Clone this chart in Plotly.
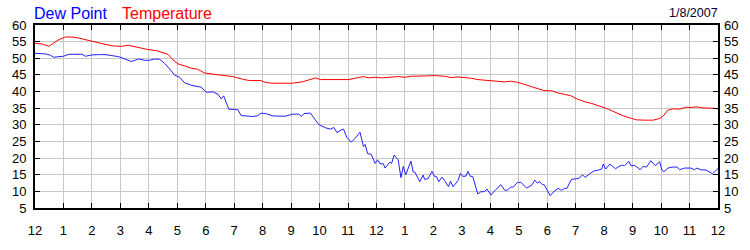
import plotly.graph_objects as go

# ---- data (hours after midnight, values in °F) ----
temp_hours = [0, 0.25, 0.49, 0.66, 0.84, 1.07, 1.3, 1.53, 1.77, 2.0, 2.23, 2.46, 2.75, 3.04, 3.28, 3.51,
              3.74, 3.98, 4.27, 4.5, 4.67, 4.85, 5.03, 5.26, 5.49, 5.72, 5.95, 6.19, 6.49, 6.95, 7.3,
              7.53, 7.94, 8.11, 8.34, 8.69, 9.04, 9.39, 9.68, 9.86, 10.03, 10.56, 10.79, 11.02, 11.25,
              11.54, 11.72, 11.95, 12.18, 12.42, 12.76, 13.0, 13.23, 13.7, 14.04, 14.39, 14.63, 14.86,
              15.1, 15.33, 15.56, 15.9, 16.26, 16.49, 16.72, 16.95, 17.18, 17.42, 17.65, 17.88, 18.17,
              18.4, 18.64, 18.81, 19.04, 19.33, 19.57, 19.8, 19.97, 20.15, 20.38, 20.67, 20.9, 21.13,
              21.43, 21.72, 21.95, 22.07, 22.24, 22.41, 22.65, 22.88, 23.05, 23.23, 23.46, 23.75,
              23.98, 24.0]
temperature = [54.5, 54.3, 53.6, 54.5, 55.6, 56.4, 56.4, 56.1, 55.6, 55.2, 54.5, 54.2, 53.7, 53.6, 53.9,
               53.4, 53.0, 52.6, 52.3, 51.8, 51.2, 49.5, 48.3, 47.7, 47.0, 46.7, 45.6, 45.3, 44.9, 44.5,
               43.7, 43.3, 43.3, 42.7, 42.5, 42.5, 42.5, 42.9, 43.6, 44.1, 43.6, 43.6, 43.8, 43.6, 44.0,
               44.5, 44.1, 44.3, 44.1, 44.3, 44.5, 44.3, 44.6, 44.7, 44.8, 44.6, 44.2, 44.4, 44.3, 44.0,
               43.6, 43.3, 43.2, 42.9, 43.1, 42.8, 42.2, 41.5, 40.8, 40.3, 40.2, 39.5, 39.1, 38.8, 37.8,
               36.9, 36.4, 35.8, 35.4, 34.7, 33.8, 32.7, 32.1, 31.5, 31.4, 31.4, 31.9, 32.6, 34.4, 34.8,
               34.7, 35.3, 35.2, 35.4, 35.1, 34.9, 34.9, 34.5]

dew_hours = [0, 0.37, 0.55, 0.66, 0.84, 1.0, 1.19, 1.36, 1.53, 1.65, 1.77, 2.0, 2.23, 2.46, 2.7, 2.93,
             3.16, 3.39, 3.63, 3.86, 4.03, 4.21, 4.38, 4.56, 4.73, 4.91, 5.08, 5.26, 5.49, 5.66, 5.84,
             6.02, 6.25, 6.43, 6.54, 6.63, 6.72, 6.81, 7.01, 7.13, 7.24, 7.48, 7.65, 7.82, 7.94, 8.11,
             8.34, 8.58, 8.81, 9.04, 9.27, 9.36, 9.45, 9.68, 9.86, 9.97, 10.21, 10.38, 10.5, 10.61,
             10.79, 10.84, 10.96, 11.11, 11.25, 11.42, 11.54, 11.6, 11.69, 11.81, 11.95, 12.04, 12.12,
             12.24, 12.3, 12.47, 12.53, 12.62, 12.76, 12.86, 12.94, 13.03, 13.21, 13.29, 13.35, 13.52,
             13.64, 13.69, 13.81, 13.95, 14.04, 14.1, 14.19, 14.3, 14.39, 14.53, 14.6, 14.69, 14.86,
             14.95, 15.03, 15.15, 15.21, 15.3, 15.38, 15.56, 15.67, 15.79, 15.88, 16.02, 16.2, 16.37,
             16.51, 16.6, 16.72, 16.81, 16.95, 17.07, 17.28, 17.47, 17.56, 17.65, 17.74, 17.82, 17.9,
             17.99, 18.1, 18.23, 18.38, 18.5, 18.61, 18.69, 18.85, 19.04, 19.13, 19.24, 19.33, 19.45,
             19.63, 19.8, 19.91, 19.97, 20.05, 20.2, 20.32, 20.4, 20.52, 20.64, 20.71, 20.87, 20.94,
             21.06, 21.14, 21.26, 21.37, 21.49, 21.64, 21.72, 21.8, 21.95, 22.03, 22.1, 22.24, 22.41,
             22.57, 22.65, 22.82, 23.05, 23.17, 23.26, 23.4, 23.58, 23.69, 23.81, 23.93, 24.0]
dew_point = [51.5, 51.3, 50.9, 50.3, 50.5, 50.6, 51.2, 51.2, 51.3, 51.2, 50.6, 51.0, 51.1, 51.1, 50.8,
             50.5, 49.8, 49.0, 49.8, 49.4, 49.4, 49.8, 49.7, 48.4, 46.8, 44.9, 44.3, 42.6, 41.9, 41.7,
             41.3, 39.8, 39.9, 39.2, 37.8, 38.7, 36.5, 34.7, 34.6, 34.5, 32.8, 32.7, 32.5, 32.7, 33.5,
             33.4, 32.7, 32.6, 32.6, 33.2, 33.2, 32.5, 33.4, 33.5, 31.6, 30.1, 29.1, 28.7, 29.2, 27.7,
             28.6, 28.7, 26.2, 24.8, 25.9, 27.8, 23.5, 24.1, 21.3, 21.2, 18.4, 19.5, 18.3, 18.3, 17.0,
             18.8, 18.4, 20.9, 19.5, 14.1, 17.5, 15.0, 19.1, 15.8, 15.8, 12.9, 14.9, 13.6, 13.8, 16.0,
             14.5, 14.5, 12.9, 14.3, 13.3, 11.4, 13.1, 11.4, 13.2, 15.4, 14.5, 14.6, 16.0, 14.5, 14.5,
             9.2, 9.9, 9.9, 10.7, 8.9, 10.6, 12.0, 10.3, 10.4, 11.3, 11.3, 12.7, 12.7, 11.0, 12.0, 13.4,
             12.5, 12.9, 12.1, 11.9, 10.3, 8.7, 9.9, 10.9, 10.3, 10.9, 10.9, 13.6, 13.8, 14.0, 15.0,
             14.2, 15.0, 16.1, 16.4, 16.7, 18.2, 16.7, 18.2, 17.5, 16.8, 17.5, 17.9, 17.7, 19.0, 17.7,
             17.8, 17.4, 16.5, 17.5, 17.3, 19.2, 18.4, 17.7, 18.9, 16.4, 15.9, 17.0, 17.3, 17.3, 16.5,
             17.0, 17.0, 16.5, 17.0, 16.5, 16.4, 15.9, 15.3, 16.3, 16.9]

hour_ticks = list(range(0, 25))
hour_labels = ["12", "1", "2", "3", "4", "5", "6", "7", "8", "9", "10", "11",
               "12", "1", "2", "3", "4", "5", "6", "7", "8", "9", "10", "11", "12"]
y_ticks = [5, 10, 15, 20, 25, 30, 35, 40, 45, 50, 55, 60]
date_label = "1/8/2007"

FONT = "Liberation Sans, Arial, sans-serif"

fig = go.Figure()
fig.add_trace(go.Scatter(x=temp_hours, y=temperature, mode="lines",
                         line=dict(color="#ff0000", width=1), name="Temperature"))
fig.add_trace(go.Scatter(x=dew_hours, y=dew_point, mode="lines",
                         line=dict(color="#2020ff", width=1), name="Dew Point"))
# invisible trace to activate the right axis
fig.add_trace(go.Scatter(x=[0], y=[30], yaxis="y2", mode="markers",
                         marker=dict(opacity=0), showlegend=False, hoverinfo="skip"))

fig.update_layout(
    width=750, height=250,
    margin=dict(l=31, r=30, t=25, b=25),
    paper_bgcolor="white", plot_bgcolor="white",
    showlegend=False,
    font=dict(family=FONT, size=12, color="black"),
    xaxis=dict(range=[0, 24], tickvals=hour_ticks, ticktext=hour_labels,
               showgrid=True, gridcolor="#c8c8c8", gridwidth=1,
               showline=True, linecolor="black", linewidth=2, mirror="ticks",
               ticks="inside", ticklen=5, tickcolor="black", tickwidth=1,
               tickfont=dict(size=13), zeroline=False, ticklabelstandoff=9),
    yaxis=dict(range=[5, 60], tickvals=y_ticks,
               showgrid=True, gridcolor="#c8c8c8", gridwidth=1,
               showline=True, linecolor="black", linewidth=2, mirror="ticks",
               ticks="inside", ticklen=5, tickcolor="black", tickwidth=1,
               tickfont=dict(size=13), zeroline=False, ticklabelstandoff=4),
    yaxis2=dict(range=[5, 60], tickvals=y_ticks, overlaying="y", side="right",
                showgrid=False, zeroline=False, showline=False, ticks="",
                tickfont=dict(size=13), ticklabelstandoff=5),
    annotations=[
        dict(text="Dew Point", x=-0.005, y=1.065, xref="paper", yref="paper",
             xanchor="left", yanchor="middle", showarrow=False,
             font=dict(family=FONT, size=16, color="#0000ff")),
        dict(text="Temperature", x=0.125, y=1.065, xref="paper", yref="paper",
             xanchor="left", yanchor="middle", showarrow=False,
             font=dict(family=FONT, size=16, color="#ff0000")),
        dict(text=date_label, x=1.003, y=1.065, xref="paper", yref="paper",
             xanchor="right", yanchor="middle", showarrow=False,
             font=dict(family=FONT, size=12.5, color="#000033")),
    ],
)

fig.write_html("out.html")
